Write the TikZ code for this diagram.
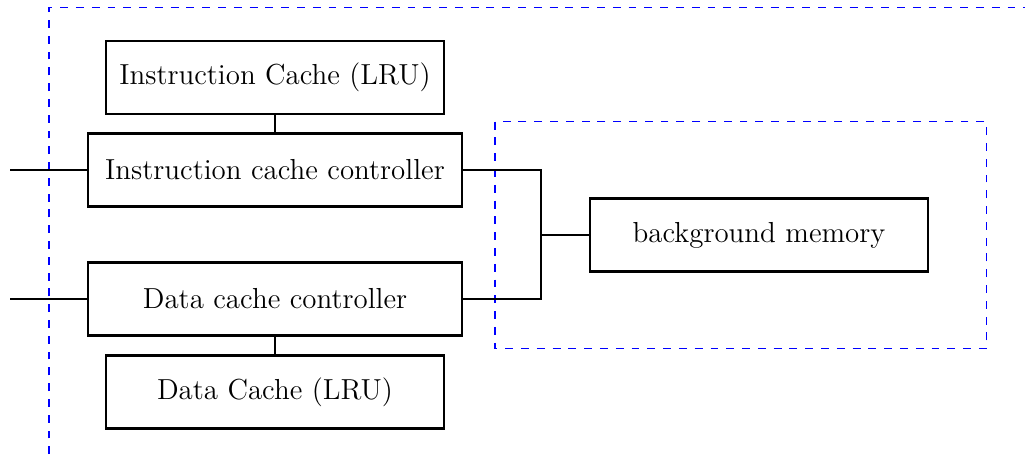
\documentclass[tikz,border=0pt]{standalone}
\usetikzlibrary{positioning}
\begin{document}
\begin{tikzpicture}[x=0.380pt, y=-0.380pt,
  font=\fontsize{11}{13}\selectfont,
  blk/.style={draw, thick, inner sep=0pt, minimum height=73*0.380pt},
  wide/.style={blk, minimum width=374*0.380pt},
  narrow/.style={blk, minimum width=338*0.380pt},
  wire/.style={draw, thin},
  region/.style={draw=blue, thin, dashed}]
  \clip (0,0) rectangle (1025,459);

  % cache hierarchy
  \node[narrow] (icache) at (275,77.5)  {Instruction Cache (LRU)};
  \node[wide]   (icc)    at (275,170)   {Instruction cache controller};
  \node[wide]   (dcc)    at (275,299)   {Data cache controller};
  \node[narrow] (dcache) at (275,392)   {Data Cache (LRU)};
  \node[narrow] (mem)    at (759,235)   {background memory};

  % boundaries
  \draw[region] (49,470) -- (49,7.5) -- (1040,7.5);
  \draw[region] (495,121.7) rectangle (986.7,348.3);

  % external ports
  \coordinate (iin) at (10,170);
  \coordinate (din) at (10,299);
  \coordinate (bus) at (541,235);

  % connections
  \draw[wire] (iin) -- (icc.west);
  \draw[wire] (din) -- (dcc.west);
  \draw[wire] (icache.south) -- (icc.north);
  \draw[wire] (dcc.south) -- (dcache.north);
  \draw[wire] (icc.east) -| (bus);
  \draw[wire] (dcc.east) -| (bus);
  \draw[wire] (bus) -- (mem.west);
\end{tikzpicture}
\end{document}
